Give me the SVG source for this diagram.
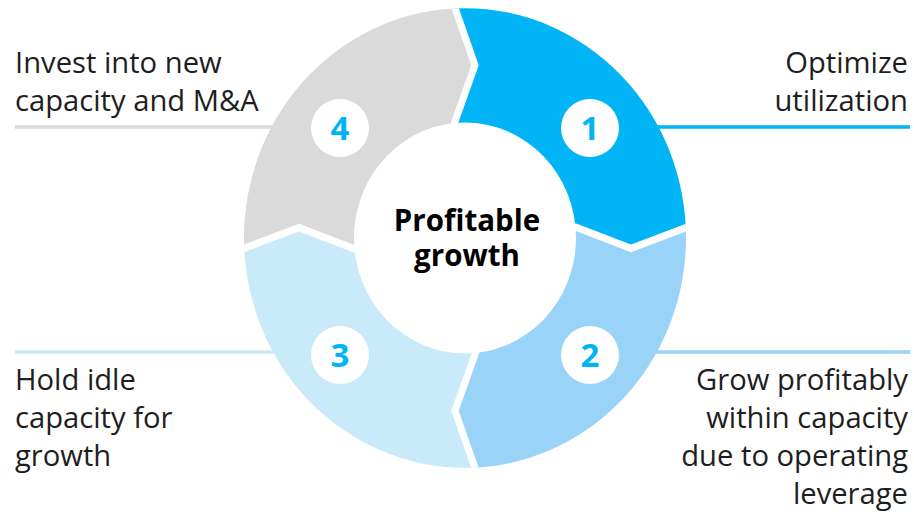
<svg xmlns="http://www.w3.org/2000/svg" width="914" height="512" viewBox="0 0 914 512">
  <defs>
    <clipPath id="outerClip">
      <circle cx="0" cy="0" r="221"/>
    </clipPath>
  </defs>
  <style>
    .label { font-family: "Open Sans", "Noto Sans", sans-serif; font-size: 29.2px; fill: #1e1e1e; }
    .num { font-family: "Open Sans", "Noto Sans", sans-serif; font-size: 33px; font-weight: 700; fill: #00B4F5; text-anchor: middle; }
    .center { font-family: "Open Sans", "Noto Sans", sans-serif; font-size: 29.5px; font-weight: 700; fill: #000; text-anchor: middle; }
    .gap { fill: none; stroke: #fff; stroke-width: 7; stroke-linejoin: miter; }
    .badge { fill: #fff; }
  </style>
  <rect width="914" height="512" fill="#fff"/>

  <g id="connectors">
    <line x1="530" y1="127" x2="910" y2="127" stroke="#00B4F5" stroke-width="3.5"/>
    <line x1="530" y1="352" x2="910" y2="352" stroke="#99D3F8" stroke-width="3.5"/>
    <line x1="15" y1="127" x2="400" y2="127" stroke="#DADADA" stroke-width="3.5"/>
    <line x1="15" y1="352" x2="400" y2="352" stroke="#C8EAF9" stroke-width="3.5"/>
  </g>

  <g id="ring" transform="translate(465,238) scale(1,1.04)">
    <g clip-path="url(#outerClip)">
      <polygon id="seg1" fill="#00B4F5" points="-24,-260 10,-166 -10,-112 0,0 112,-10 166,10 260,-24 260,-260"/>
      <polygon id="seg2" fill="#99D3F8" points="260,-24 166,10 112,-10 0,0 10,112 -10,166 24,260 260,260"/>
      <polygon id="seg3" fill="#C8EAF9" points="24,260 -10,166 10,112 0,0 -112,10 -166,-10 -260,24 -260,260"/>
      <polygon id="seg4" fill="#DADADA" points="-260,24 -166,-10 -112,10 0,0 -10,-112 10,-166 -24,-260 -260,-260"/>
      <polyline class="gap" points="-24,-260 10,-166 -10,-112 -14,-100"/>
      <polyline class="gap" points="260,-24 166,10 112,-10 100,-14"/>
      <polyline class="gap" points="24,260 -10,166 10,112 14,100"/>
      <polyline class="gap" points="-260,24 -166,-10 -112,10 -100,14"/>
    </g>
    <circle cx="0" cy="0" r="111" fill="#fff"/>
  </g>

  <g id="node-center">
    <text class="center" x="467" y="231">Profitable</text>
    <text class="center" x="467" y="266">growth</text>
  </g>

  <g id="node-1">
    <circle class="badge" cx="590" cy="128" r="29"/>
    <text class="num" x="590" y="140">1</text>
    <text class="label" x="908" y="73" text-anchor="end">Optimize</text>
    <text class="label" x="908" y="111" text-anchor="end">utilization</text>
  </g>

  <g id="node-2">
    <circle class="badge" cx="590" cy="355" r="29"/>
    <text class="num" x="590" y="367">2</text>
    <text class="label" x="908" y="390" text-anchor="end">Grow profitably</text>
    <text class="label" x="908" y="428" text-anchor="end">within capacity</text>
    <text class="label" x="908" y="466" text-anchor="end">due to operating</text>
    <text class="label" x="908" y="504" text-anchor="end">leverage</text>
  </g>

  <g id="node-3">
    <circle class="badge" cx="340" cy="355" r="29"/>
    <text class="num" x="340" y="367">3</text>
    <text class="label" x="15" y="390">Hold idle</text>
    <text class="label" x="15" y="428">capacity for</text>
    <text class="label" x="15" y="466">growth</text>
  </g>

  <g id="node-4">
    <circle class="badge" cx="340" cy="128" r="29"/>
    <text class="num" x="340" y="140">4</text>
    <text class="label" x="15" y="73">Invest into new</text>
    <text class="label" x="15" y="111">capacity and M&amp;A</text>
  </g>
</svg>
